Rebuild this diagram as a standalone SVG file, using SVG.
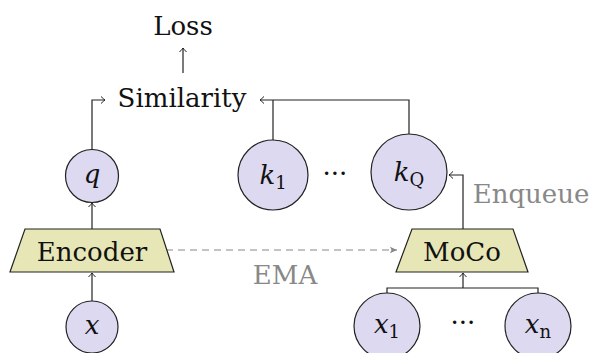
<svg xmlns="http://www.w3.org/2000/svg" width="592" height="353" viewBox="0 0 592 353">
<defs>
<marker id="ah" markerUnits="userSpaceOnUse" markerWidth="12" markerHeight="12" viewBox="-6 -6 12 12" refX="0" refY="0" orient="auto">
<path d="M-4,-3.5 Q-1,-0.6 0,0 Q-1,0.6 -4,3.5" fill="none" stroke="#222" stroke-width="1"/>
</marker>
<marker id="ahg" markerUnits="userSpaceOnUse" markerWidth="14" markerHeight="14" viewBox="-7 -7 14 14" refX="0" refY="0" orient="auto">
<path d="M-7,-3.2 L0,0 L-7,3.2 L-5.5,0 Z" fill="#888" stroke="none"/>
</marker>
</defs>
<style>
text{font-family:'DejaVu Serif',serif;font-size:26px;fill:#111;text-anchor:middle}
.m{font-style:italic}
.s{font-style:normal;font-size:18px}
.g{fill:#888}
.c{fill:#ddd9f0;stroke:#222;stroke-width:1.2}
.tr{fill:#e6e6b6;stroke:#222;stroke-width:1.2}
.e{fill:none;stroke:#222;stroke-width:1.2}
.d{fill:none;stroke:#888;stroke-width:1.2;stroke-dasharray:7,5}
</style>
<g id="connectors">
<path class="e" d="M183,73 V48" marker-end="url(#ah)"/>
<path class="e" d="M92,150 V100 H105" marker-end="url(#ah)"/>
<path class="e" d="M409,134 V100 H260" marker-end="url(#ah)"/>
<path class="e" d="M273,140 V100"/>
<path class="e" d="M92,230 V203" marker-end="url(#ah)"/>
<path class="e" d="M92,301 V273" marker-end="url(#ah)"/>
<path class="e" d="M463,230 V175 H449" marker-end="url(#ah)"/>
<path class="e" d="M463,288 V273" marker-end="url(#ah)"/>
<path class="e" d="M387,294 V288 H538 V294"/>
<path class="d" d="M166,250 H397" marker-end="url(#ahg)"/>
</g>
<g id="loss"><text x="183" y="35">Loss</text></g>
<g id="similarity"><text x="182" y="107">Similarity</text></g>
<g id="q"><circle class="c" cx="92" cy="176" r="26.5"/><text class="m" x="92" y="183">q</text></g>
<g id="k1"><circle class="c" cx="273" cy="175" r="35"/><text class="m" x="273" y="184">k<tspan class="s" dy="5">1</tspan></text></g>
<g id="kdots"><text x="335" y="182">···</text></g>
<g id="kQ"><circle class="c" cx="409" cy="172" r="38"/><text class="m" x="409" y="181">k<tspan class="s" dy="5">Q</tspan></text></g>
<g id="encoder"><path class="tr" d="M25,229 H160 L174,272 H10 Z"/><text x="92" y="261">Encoder</text></g>
<g id="moco"><path class="tr" d="M412,229 H513 L528,272 H396 Z"/><text x="462" y="261">MoCo</text></g>
<g id="ema"><text class="g" x="285" y="284">EMA</text></g>
<g id="enqueue"><text class="g" x="531" y="203">Enqueue</text></g>
<g id="x"><circle class="c" cx="92" cy="327" r="26"/><text class="m" x="92" y="334">x</text></g>
<g id="x1"><circle class="c" cx="387" cy="326" r="33"/><text class="m" x="387" y="333">x<tspan class="s" dy="5">1</tspan></text></g>
<g id="xdots"><text x="463" y="331">···</text></g>
<g id="xn"><circle class="c" cx="538" cy="326" r="33"/><text class="m" x="538" y="333">x<tspan class="s" dy="5">n</tspan></text></g>
</svg>
